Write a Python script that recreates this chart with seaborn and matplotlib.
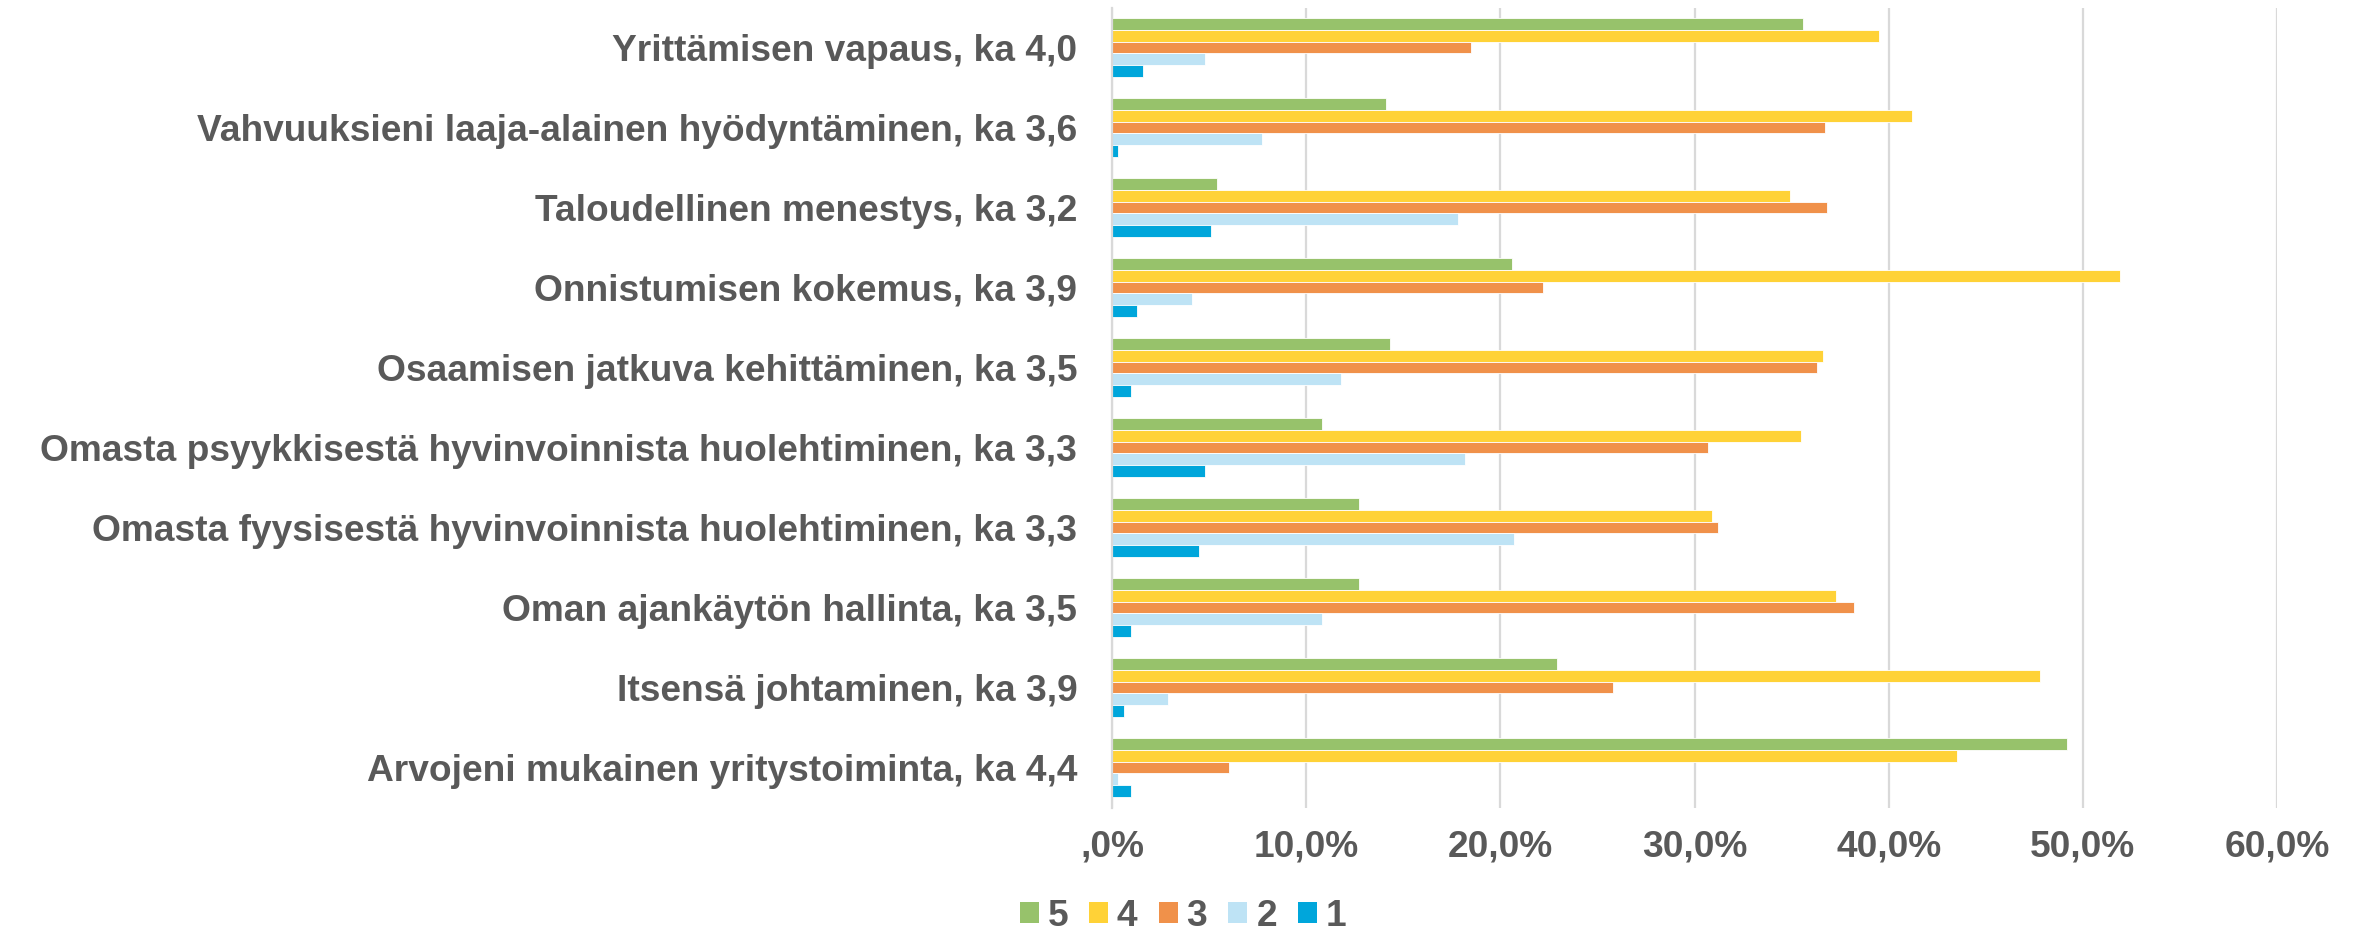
import matplotlib
matplotlib.use("Agg")
import matplotlib.pyplot as plt
from matplotlib.patches import Patch
import seaborn as sns
import pandas as pd

categories = [
    "Yrittämisen vapaus, ka 4,0",
    "Vahvuuksieni laaja-alainen hyödyntäminen, ka 3,6",
    "Taloudellinen menestys, ka 3,2",
    "Onnistumisen kokemus, ka 3,9",
    "Osaamisen jatkuva kehittäminen, ka 3,5",
    "Omasta psyykkisestä hyvinvoinnista huolehtiminen, ka 3,3",
    "Omasta fyysisestä hyvinvoinnista huolehtiminen, ka 3,3",
    "Oman ajankäytön hallinta, ka 3,5",
    "Itsensä johtaminen, ka 3,9",
    "Arvojeni mukainen yritystoiminta, ka 4,4",
]
series_names = ["5", "4", "3", "2", "1"]
vals_5 = [35.6, 14.1, 5.4, 20.6, 14.3, 10.8, 12.7, 12.7, 22.9, 49.2]
vals_4 = [39.5, 41.2, 34.9, 51.9, 36.6, 35.5, 30.9, 37.3, 47.8, 43.5]
vals_3 = [18.5, 36.7, 36.8, 22.2, 36.3, 30.7, 31.2, 38.2, 25.8, 6.0]
vals_2 = [4.8, 7.7, 17.8, 4.1, 11.8, 18.2, 20.7, 10.8, 2.9, 0.3]
vals_1 = [1.6, 0.3, 5.1, 1.3, 1.0, 4.8, 4.5, 1.0, 0.6, 1.0]
xticks = [0, 10, 20, 30, 40, 50, 60]
xtick_labels = [",0%", "10,0%", "20,0%", "30,0%", "40,0%", "50,0%", "60,0%"]
colors = ["#97C26B", "#FFD237", "#F0914A", "#BEE3F5", "#00A6DB"]

rows = []
for name, vals in zip(series_names, [vals_5, vals_4, vals_3, vals_2, vals_1]):
    for c, v in zip(categories, vals):
        rows.append({"category": c, "rating": name, "value": v})
df = pd.DataFrame(rows)

sns.set_style("white")
plt.rcParams["font.family"] = ["Liberation Sans", "DejaVu Sans"]
plt.rcParams["font.weight"] = "bold"

W, H = 2359, 931
fig = plt.figure(figsize=(W / 100, H / 100), dpi=100)
ax = fig.add_axes([1112 / W, 1 - 807.5 / H, (2277 - 1112) / W, 800 / H])

pal = dict(zip(series_names, colors))
sns.barplot(data=df, y="category", x="value", hue="rating", hue_order=series_names,
            order=categories, palette=pal, orient="h", width=0.734, dodge=True,
            legend=False, ax=ax, edgecolor="white", linewidth=0.6, saturation=1)

ax.set_xlim(0, 60)
ax.set_ylim(9.5, -0.5)
ax.set_xticks(xticks)
ax.set_xticklabels(xtick_labels)
ax.set_xlabel("")
ax.set_ylabel("")
ax.grid(axis="x", color="#D9D9D9", linewidth=1.6)
ax.grid(axis="y", visible=False)
ax.set_axisbelow(True)
for s in ["top", "right", "bottom"]:
    ax.spines[s].set_visible(False)
ax.spines["left"].set_color("#D9D9D9")
ax.spines["left"].set_linewidth(1.6)

fs = 26.7
ax.tick_params(axis="x", length=0, pad=16, labelsize=fs, labelcolor="#595959")
ax.tick_params(axis="y", length=0, pad=25, labelsize=fs, labelcolor="#595959")
for t in ax.get_xticklabels() + ax.get_yticklabels():
    t.set_fontweight("bold")

handles = [Patch(facecolor=c, edgecolor="none", label=n) for n, c in zip(series_names, colors)]
leg = fig.legend(handles=handles, loc="center", bbox_to_anchor=(0.5015, 1 - 916 / H),
                 ncol=5, frameon=False, fontsize=fs, handlelength=0.51, handleheight=0.51,
                 handletextpad=0.24, columnspacing=0.57, borderpad=0, borderaxespad=0)
for t in leg.get_texts():
    t.set_color("#595959")
    t.set_fontweight("bold")

fig.savefig("out.png", dpi=100)
